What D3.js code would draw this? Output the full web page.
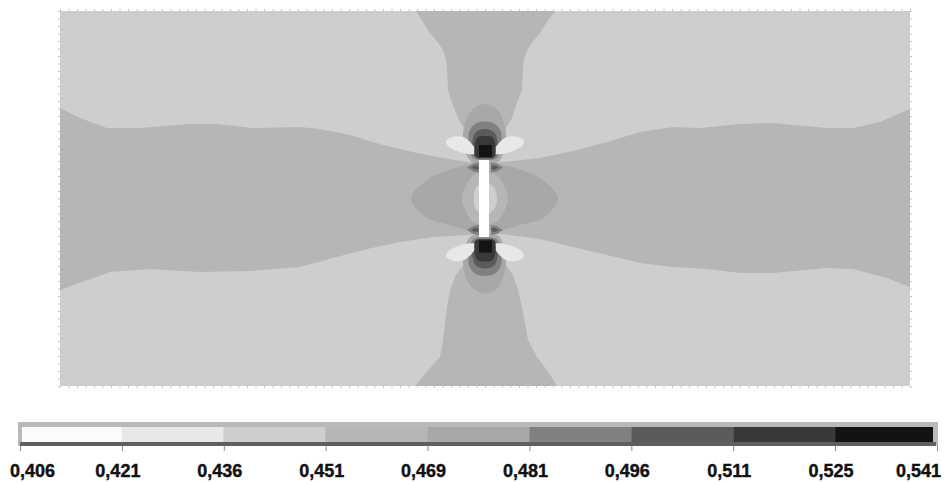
<!DOCTYPE html>
<html>
<head>
<meta charset="utf-8">
<script src="https://d3js.org/d3.v7.min.js"></script>
<style>
  html, body { margin: 0; padding: 0; background: #fff; }
</style>
</head>
<body>
<div id="chart"></div>
<script>
// colour classes of the contour legend (low -> high)
var levelColors = ["#fbfbfb", "#e8e8e8", "#cecece", "#b6b6b6", "#a8a8a8", "#808080", "#5b5b5b", "#393939", "#131313"];
var legendTicks = ["0,406", "0,421", "0,436", "0,451", "0,469", "0,481", "0,496", "0,511", "0,525", "0,541"];

// plate, mm, origin at crack centre, y up
var plateX = [-85, 85];
var plateY = [-37.5, 37.5];

// horizontal band (class 3), upper then lower boundary
var bandTop = [[-85,18.1],[-81,16.1],[-75.6,14.1],[-69,14.1],[-59,14.9],[-53.6,14.9],[-46.4,14.1],[-37,14.3],[-33,13.9],[-27,12.7],[-20.4,10.7],[-13.6,9.1],[-8.4,8.1],[-3.6,7.3],[0,6.9],[3.6,7.3],[11,8.1],[17.6,9.5],[24.4,11.3],[31,13.3],[37.6,14.3],[43,14.1],[51,14.9],[57.6,15.1],[68.4,14.1],[73.6,14.1],[79,15.3],[85,17.9]];
var bandBottom = [[85,-17.7],[80.4,-15.9],[73.6,-14.1],[68.4,-13.9],[57.6,-14.9],[51,-14.9],[44.4,-14.1],[37.6,-13.7],[31,-12.9],[24.4,-11.3],[17.6,-9.7],[11,-8.1],[3.6,-7.1],[0,-6.9],[-3.6,-7.3],[-10.4,-7.7],[-17,-8.7],[-23.6,-10.1],[-30.4,-11.9],[-37,-13.7],[-47,-14.5],[-57,-14.7],[-67,-14.1],[-75,-14.7],[-80,-16.5],[-85,-18.3]];

// vertical bands above and below the crack (class 3)
var stemTop = [[-13.8,37.5],[14,37.5],[12.4,35.3],[11,33.1],[9.4,31.2],[8.4,29.7],[7.8,27.8],[7.6,26.3],[7.4,21.7],[6.6,19.7],[5.4,16.1],[3.8,13.3],[1.8,11.6],[0,11.2],[-1.8,11.6],[-3.8,13.3],[-5.4,16.1],[-6.8,19.7],[-7.4,21.7],[-7.6,26.3],[-7.8,27.8],[-8.4,29.7],[-9.4,31.2],[-11,33.1],[-12.4,35.3]];
var stemBottom = [[-14,-37.5],[-11.4,-34.4],[-9,-31.7],[-8.4,-28.3],[-7.6,-21.7],[-7,-18.3],[-5.8,-15.3],[-3.8,-12.7],[-1.8,-11.4],[0,-11.2],[1.8,-11.4],[3.8,-12.7],[5.6,-15.3],[6.6,-18.3],[7.4,-21.7],[8.6,-28.3],[10.4,-31.7],[12.6,-34.6],[14.4,-37.5]];

// lens around the crack (class 4, 3, 2)
var lens = [[-14.8,0],[-11.6,3.7],[-8.4,5.3],[-3.6,6.7],[0,7.1],[3.6,6.7],[8.4,5.3],[11.6,3.7],[14.6,0],[11.6,-3.9],[7,-5.3],[3.6,-6.3],[0,-6.5],[-3.6,-6.3],[-7,-5.3],[-11.6,-3.9]];
var lensInner = [[-4.6,0],[-3.8,2.6],[-2.4,4.6],[0,5.3],[2.4,4.6],[3.8,2.6],[4.6,0],[3.8,-2.6],[2.4,-4.6],[0,-5.3],[-2.4,-4.6],[-3.8,-2.6]];
var lensCore = [[-2.2,0],[-1.8,2.2],[0,3.2],[1.8,2.2],[2.4,0],[1.8,-2.2],[0,-3.2],[-1.8,-2.2]];

// crack opening
var crackX = [-1.2, 0.8];
var crackY = [-7.7, 7.7];

// crack tips: features given relative to tip, dy pointing away from crack
var tipY = [9.5, -9.6];
var tipHalo = [[0,9.4],[2.4,8.4],[3.6,6.2],[4.2,3.2],[3.8,0],[2.6,-2.2],[0,-2.6],[-2.6,-2.2],[-4,0],[-4.4,3.2],[-3.8,6.2],[-2.4,8.4]];
var tipRing5 = [[0,5.9],[2,5.4],[3.2,3.8],[3.2,1.4],[2.4,-1.4],[0,-1.8],[-2.4,-1.4],[-3.2,1.4],[-3.2,3.8],[-2,5.4]];
var tipRing6 = [[0,4.4],[1.8,3.8],[2.5,2],[2.3,-0.6],[1.6,-1.4],[0,-1.5],[-1.6,-1.4],[-2.3,-0.6],[-2.5,2],[-1.8,3.8]];
var tipLobe = [[-7.8,2.0],[-6.6,2.8],[-4.4,2.8],[-2.8,1.6],[-1.6,-0.4],[-3.4,-0.6],[-5.6,0],[-7.4,1.0]];
var tipRing7 = [[0,3],[1.4,2.8],[2,1.6],[2,-1],[1.4,-1.4],[0,-1.4],[-1.4,-1.4],[-2,-1],[-2,1.6],[-1.4,2.8]];
var tipCore = [[-1.2,1.2],[1.4,1.2],[1.4,-1.2],[-1.2,-1.2]];
var notch = [[-3.6,-3.3],[-2.4,-2.5],[-1.2,-2.3],[-1.2,-4.3],[-2.4,-4.1]];
var notchCore = [[-2.8,-3.3],[-2,-2.9],[-1.3,-3.0],[-1.3,-3.7],[-2,-3.7]];

var w = 949;
var h = 483;

var svg = d3.select("#chart")
            .append("svg")
            .attr("width", w)
            .attr("height", h)
            .style("font-family", "'Liberation Sans', Arial, sans-serif");

var x = d3.scaleLinear().domain(plateX).range([60, 910]);
var y = d3.scaleLinear().domain(plateY).range([386, 11]);

var smooth = d3.line()
    .x(function(d){ return x(d[0]); })
    .y(function(d){ return y(d[1]); })
    .curve(d3.curveCatmullRomClosed);

var sharp = d3.line()
    .x(function(d){ return x(d[0]); })
    .y(function(d){ return y(d[1]); })
    .curve(d3.curveLinearClosed);

var plot = svg.append("g");

// plate background (class 2)
plot.append("rect")
    .attr("x", x(plateX[0]))
    .attr("y", y(plateY[1]))
    .attr("width", x(plateX[1]) - x(plateX[0]))
    .attr("height", y(plateY[0]) - y(plateY[1]))
    .attr("fill", levelColors[2]);

function region(pts, level, gen) {
  plot.append("path")
    .attr("d", gen(pts))
    .attr("fill", levelColors[level]);
}

region(bandTop.concat(bandBottom), 3, sharp);
region(stemTop, 3, sharp);
region(stemBottom, 3, sharp);
region(lens, 4, smooth);
region(lensInner, 3, smooth);
region(lensCore, 2, smooth);

// tip features, mirrored for upper/lower tip and left/right lobe
function place(pts, ty, s, side) {
  return pts.map(function(p){ return [p[0] * side, ty + s * p[1]]; });
}

tipY.forEach(function(ty, i) {
  var s = i === 0 ? 1 : -1;
  region(place(tipHalo, ty, s, 1), 4, smooth);
  region(place(tipRing5, ty, s, 1), 5, smooth);
  region(place(tipRing6, ty, s, 1), 6, smooth);
  [-1, 1].forEach(function(side) {
    region(place(tipLobe, ty, s, side), 1, smooth);
    region(place(notch, ty, s, side), 5, sharp);
    region(place(notchCore, ty, s, side), 6, sharp);
  });
  region(place(tipRing7, ty, s, 1), 7, smooth);
  region(place(tipCore, ty, s, 1), 8, sharp);
});

// crack
plot.append("rect")
    .attr("x", x(crackX[0]))
    .attr("y", y(crackY[1]))
    .attr("width", x(crackX[1]) - x(crackX[0]))
    .attr("height", y(crackY[0]) - y(crackY[1]))
    .attr("fill", "#ffffff");

// mesh nodes along the plate edge
var nodesX = d3.range(plateX[0], plateX[1] + 0.01, 1.7);
var nodesY = d3.range(plateY[0], plateY[1] + 0.01, 1.5);

function edge(axis, tx, ty) {
  var g = svg.append("g")
      .attr("transform", "translate(" + tx + "," + ty + ")")
      .call(axis);
  g.select(".domain").remove();
  g.selectAll("text").remove();
  g.selectAll("line").attr("stroke", "#c6c6c6");
}

edge(d3.axisTop(x).tickValues(nodesX).tickSize(2), 0, 11);
edge(d3.axisBottom(x).tickValues(nodesX).tickSize(2), 0, 386);
edge(d3.axisLeft(y).tickValues(nodesY).tickSize(2), 60, 0);
edge(d3.axisRight(y).tickValues(nodesY).tickSize(2), 910, 0);

// legend
var lx = d3.scalePoint().domain(legendTicks).range([20, 937]);
var legend = svg.append("g");

legend.append("rect")
    .attr("x", 18).attr("y", 422)
    .attr("width", 920).attr("height", 24)
    .attr("fill", "#b9b9b9");

legend.selectAll("rect.box")
  .data(levelColors)
  .enter()
  .append("rect")
    .attr("class", "box")
    .attr("x", function(d, i){ return lx(legendTicks[i]) + (i === 0 ? 2 : 0); })
    .attr("y", 427)
    .attr("width", function(d, i){
      return lx(legendTicks[i + 1]) - lx(legendTicks[i]) - (i === 0 ? 2 : 0) - (i === 8 ? 4 : 0);
    })
    .attr("height", 15)
    .attr("fill", function(d){ return d; });

legend.append("rect")
    .attr("x", 20).attr("y", 442)
    .attr("width", 916).attr("height", 4)
    .attr("fill", "#5f5f5f");

var lax = legend.append("g")
    .attr("transform", "translate(0,446)")
    .call(d3.axisBottom(lx).tickSize(5).tickFormat(""));
lax.select(".domain").remove();
lax.selectAll("line").attr("stroke", "#8a8a8a");

legend.selectAll("text.lab")
  .data(legendTicks)
  .enter()
  .append("text")
    .attr("class", "lab")
    .text(function(d){ return d; })
    .attr("y", 477)
    .attr("font-size", "18px")
    .attr("font-weight", "bold")
    .attr("fill", "#111")
    .attr("stroke", "#111")
    .attr("stroke-width", 0.4)
    .attr("text-anchor", "middle")
    .attr("x", function(d){
      var half = this.getComputedTextLength() / 2;
      var cx = lx(d) - 4;
      return Math.max(10 + half, Math.min(941 - half, cx));
    });
</script>
</body>
</html>
